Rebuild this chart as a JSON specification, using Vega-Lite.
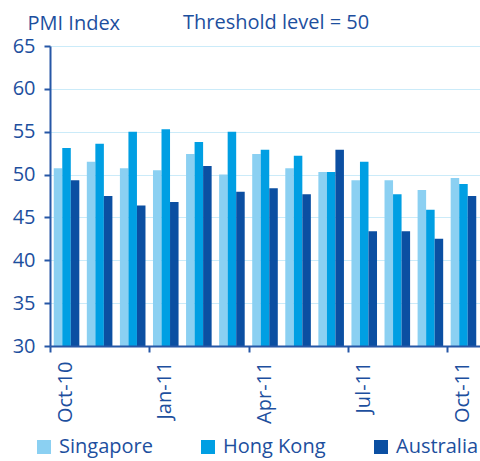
{
  "$schema": "https://vega.github.io/schema/vega-lite/v6.json",
  "width": 430,
  "height": 300,
  "autosize": {"type": "none"},
  "padding": {"left": 50, "top": 46, "right": 0, "bottom": 115},
  "config": {"view": {"stroke": null}, "font": "Open Sans"},
  "title": {
    "text": "Threshold level = 50",
    "anchor": "start",
    "frame": "group",
    "dx": 133,
    "offset": -20,
    "fontSize": 20,
    "fontWeight": "normal",
    "color": "#1d4f9e"
  },
  "data": {
    "values": [
      {"month": "Oct-10", "country": "Singapore", "pmi": 50.75},
      {"month": "Oct-10", "country": "Hong Kong", "pmi": 53.1},
      {"month": "Oct-10", "country": "Australia", "pmi": 49.35},
      {"month": "Nov-10", "country": "Singapore", "pmi": 51.5},
      {"month": "Nov-10", "country": "Hong Kong", "pmi": 53.6},
      {"month": "Nov-10", "country": "Australia", "pmi": 47.5},
      {"month": "Dec-10", "country": "Singapore", "pmi": 50.75},
      {"month": "Dec-10", "country": "Hong Kong", "pmi": 55.0},
      {"month": "Dec-10", "country": "Australia", "pmi": 46.4},
      {"month": "Jan-11", "country": "Singapore", "pmi": 50.5},
      {"month": "Jan-11", "country": "Hong Kong", "pmi": 55.3},
      {"month": "Jan-11", "country": "Australia", "pmi": 46.8},
      {"month": "Feb-11", "country": "Singapore", "pmi": 52.4},
      {"month": "Feb-11", "country": "Hong Kong", "pmi": 53.8},
      {"month": "Feb-11", "country": "Australia", "pmi": 51.0},
      {"month": "Mar-11", "country": "Singapore", "pmi": 50.0},
      {"month": "Mar-11", "country": "Hong Kong", "pmi": 55.0},
      {"month": "Mar-11", "country": "Australia", "pmi": 48.0},
      {"month": "Apr-11", "country": "Singapore", "pmi": 52.4},
      {"month": "Apr-11", "country": "Hong Kong", "pmi": 52.9},
      {"month": "Apr-11", "country": "Australia", "pmi": 48.4},
      {"month": "May-11", "country": "Singapore", "pmi": 50.75},
      {"month": "May-11", "country": "Hong Kong", "pmi": 52.2},
      {"month": "May-11", "country": "Australia", "pmi": 47.7},
      {"month": "Jun-11", "country": "Singapore", "pmi": 50.3},
      {"month": "Jun-11", "country": "Hong Kong", "pmi": 50.3},
      {"month": "Jun-11", "country": "Australia", "pmi": 52.9},
      {"month": "Jul-11", "country": "Singapore", "pmi": 49.35},
      {"month": "Jul-11", "country": "Hong Kong", "pmi": 51.5},
      {"month": "Jul-11", "country": "Australia", "pmi": 43.4},
      {"month": "Aug-11", "country": "Singapore", "pmi": 49.35},
      {"month": "Aug-11", "country": "Hong Kong", "pmi": 47.7},
      {"month": "Aug-11", "country": "Australia", "pmi": 43.4},
      {"month": "Sep-11", "country": "Singapore", "pmi": 48.2},
      {"month": "Sep-11", "country": "Hong Kong", "pmi": 45.9},
      {"month": "Sep-11", "country": "Australia", "pmi": 42.5},
      {"month": "Oct-11", "country": "Singapore", "pmi": 49.6},
      {"month": "Oct-11", "country": "Hong Kong", "pmi": 48.9},
      {"month": "Oct-11", "country": "Australia", "pmi": 47.5}
    ]
  },
  "mark": {"type": "bar", "clip": true},
  "encoding": {
    "x": {
      "field": "month",
      "type": "ordinal",
      "sort": null,
      "scale": {"paddingInner": 0, "paddingOuter": 0},
      "axis": {
        "title": null,
        "zindex": 2,
        "labelExpr": "indexof(['Oct-10','Jan-11','Apr-11','Jul-11','Oct-11'], datum.value) >= 0 ? datum.value : ''",
        "tickOffset": -16.5,
        "labelOffset": 15.5,
        "tickOpacity": {"condition": {"test": "indexof(['Oct-10','Jan-11','Apr-11','Jul-11','Oct-11'], datum.value) >= 0", "value": 1}, "value": 0},
        "labelAngle": -90,
        "labelAlign": "right",
        "labelBaseline": "middle",
        "labelOverlap": false,
        "labelBound": false,
        "labelFlush": false,
        "labelFontSize": 20,
        "labelColor": "#1d4f9e",
        "labelPadding": 9,
        "tickSize": 6,
        "tickWidth": 2,
        "tickColor": "#2657a6",
        "domainColor": "#2657a6",
        "domainWidth": 2,
        "grid": false
      }
    },
    "xOffset": {
      "field": "country",
      "sort": ["Singapore", "Hong Kong", "Australia"],
      "scale": {"paddingOuter": 0.44, "paddingInner": 0}
    },
    "y": {
      "field": "pmi",
      "type": "quantitative",
      "scale": {"domain": [30, 65], "nice": false, "zero": false},
      "axis": {
        "values": [30, 35, 40, 45, 50, 55, 60, 65],
        "grid": true,
        "gridColor": "#cbebf9",
        "gridWidth": 1.2,
        "domainColor": "#2657a6",
        "domainWidth": 2,
        "tickColor": "#2657a6",
        "tickWidth": 2,
        "tickSize": 6,
        "labelFontSize": 20,
        "labelColor": "#1d4f9e",
        "labelPadding": 9,
        "title": "PMI Index",
        "titleAngle": 0,
        "titleAlign": "left",
        "titleBaseline": "alphabetic",
        "titleX": -23,
        "titleY": -17,
        "titleFontSize": 20,
        "titleFontWeight": "normal",
        "titleColor": "#1d4f9e"
      }
    },
    "color": {
      "field": "country",
      "type": "nominal",
      "sort": ["Singapore", "Hong Kong", "Australia"],
      "scale": {"domain": ["Singapore", "Hong Kong", "Australia"], "range": ["#8bd0f2", "#009fe3", "#0b4fa2"]},
      "legend": {
        "title": null,
        "zindex": 2,
        "orient": "none",
        "direction": "horizontal",
        "legendX": -16,
        "legendY": 391,
        "symbolType": "square",
        "symbolSize": 196,
        "symbolStrokeWidth": 0,
        "symbolOpacity": 1,
        "labelFontSize": 20,
        "labelColor": "#1d4f9e",
        "labelOffset": 5,
        "columnPadding": 45
      }
    }
  }
}
